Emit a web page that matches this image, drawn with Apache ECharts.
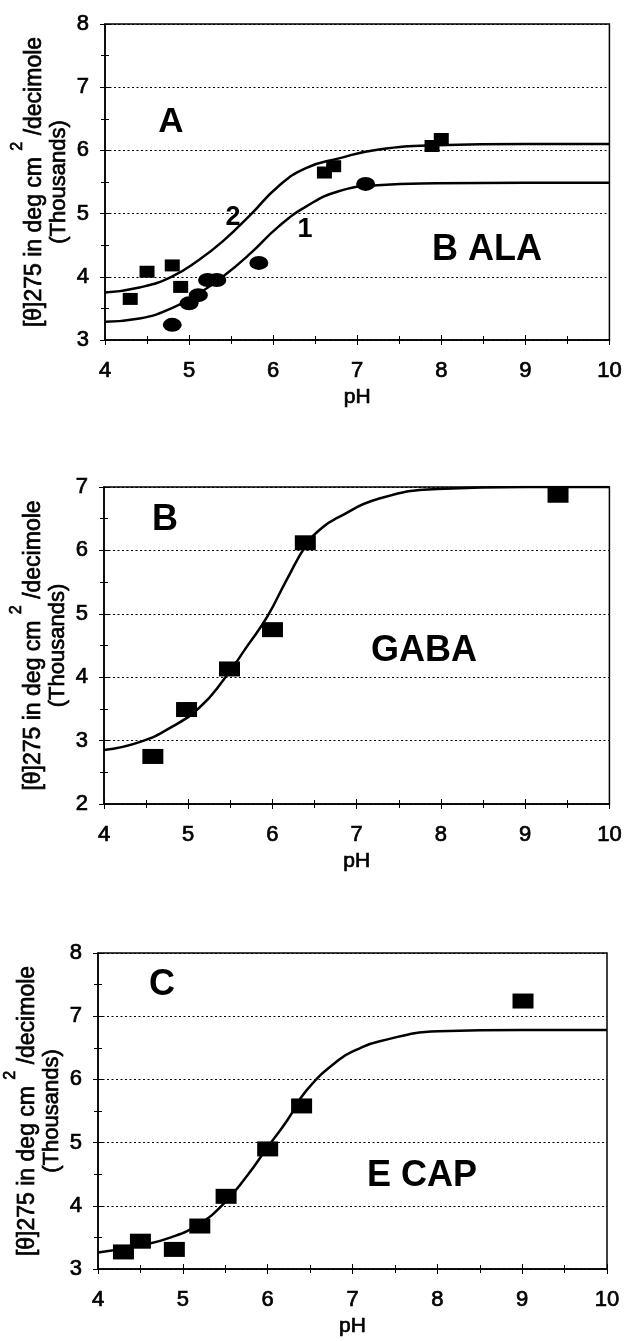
<!DOCTYPE html>
<html>
<head>
<meta charset="utf-8">
<script src="https://cdn.jsdelivr.net/npm/echarts@6/dist/echarts.min.js"></script>
<style>
html,body{margin:0;padding:0;background:#fff;}
#c{width:625px;height:1341px;}
</style>
</head>
<body>
<div id="c"></div>
<script>
// ---- data ----
const xTicks = [4, 5, 6, 7, 8, 9, 10];
const yRangeA = [3, 8];
const yRangeB = [2, 7];
const yRangeC = [3, 8];

// Panel A (B ALA)
const aCurve1 = [[4,3.29],[4.41,3.34],[4.79,3.50],[5.12,3.74],[5.40,4.00],[5.73,4.37],[6.06,4.79],[6.39,5.11],[6.77,5.35],[7.24,5.45],[7.94,5.48],[9,5.49],[10,5.49]];
const aCurve2 = [[4,3.75],[4.41,3.83],[4.79,4.00],[5.12,4.27],[5.40,4.56],[5.73,4.98],[6.06,5.43],[6.39,5.72],[6.77,5.87],[7.24,6.01],[7.94,6.08],[9,6.10],[10,6.10]];
const aSquares = [[4.30,3.65],[4.50,4.08],[4.80,4.18],[4.90,3.84],[6.61,5.65],[6.72,5.75],[7.89,6.07],[8.00,6.18]];
const aCircles = [[4.80,3.24],[5.00,3.58],[5.11,3.71],[5.22,3.95],[5.33,3.95],[5.83,4.22],[7.10,5.47]];

// Panel B (GABA)
const bCurve = [[4,2.85],[4.43,2.98],[4.81,3.22],[5.14,3.53],[5.42,3.96],[5.70,4.49],[5.94,4.96],[6.17,5.54],[6.41,6.10],[6.60,6.37],[6.78,6.52],[7.25,6.81],[7.96,6.97],[9,7.00],[10,7.00]];
const bSquares = [[4.58,2.75],[4.98,3.49],[5.49,4.13],[6.00,4.75],[6.39,6.12],[9.39,6.87]];

// Panel C (E CAP)
const cCurve = [[4,3.26],[4.49,3.37],[4.86,3.50],[5.19,3.71],[5.48,4.03],[5.76,4.48],[6.00,4.93],[6.23,5.35],[6.46,5.83],[6.84,6.31],[7.05,6.47],[7.31,6.60],[8.01,6.76],[9,6.78],[10,6.78]];
const cSquares = [[4.30,3.27],[4.50,3.44],[4.90,3.31],[5.20,3.68],[5.51,4.15],[6.00,4.90],[6.40,5.58],[9.01,7.24]];

// texts
const xTitle = 'pH';
const yTitleLine1 = ['[θ]275 in deg cm ', '2', ' /decimole'];
const yTitleLine2 = '(Thousands)';
const panelLabels = [
  {text:'A', x:171, y:122, size:35},
  {text:'2', x:233, y:218, size:27},
  {text:'1', x:305, y:230, size:27},
  {text:'B ALA', x:487, y:250, size:36},
  {text:'B', x:165, y:520, size:36},
  {text:'GABA', x:424, y:651, size:36},
  {text:'C', x:162, y:985, size:36},
  {text:'E CAP', x:422, y:1176, size:36}
];

// ---- layout ----
const FF = '"Liberation Sans", Arial, sans-serif';
const grids = [
  {left:105, top:24, width:507, height:316},
  {left:104, top:487, width:509, height:317},
  {left:98, top:953, width:509, height:316}
];
const yRanges = [yRangeA, yRangeB, yRangeC];
const heavy = {textBorderColor:'#000', textBorderWidth:0.7};

const xAxes = [], yAxes = [];
grids.forEach((g, i) => {
  xAxes.push({
    type:'value', gridIndex:i, min:xTicks[0], max:xTicks[xTicks.length-1], interval:1, position:'bottom',
    axisLine:{show:true, onZero:false, lineStyle:{color:'#000', width:1.5}},
    axisTick:{show:true, length:5, lineStyle:{color:'#000', width:1}},
    minorTick:{show:true, splitNumber:2, length:4, lineStyle:{color:'#000', width:1}},
    axisLabel:Object.assign({fontSize:22, color:'#000', fontFamily:FF, margin:20}, heavy),
    splitLine:{show:false},
    name:xTitle, nameLocation:'middle', nameGap:47,
    nameTextStyle:Object.assign({fontSize:21, color:'#000', fontFamily:FF}, heavy)
  });
  xAxes.push({
    type:'value', gridIndex:i, min:xTicks[0], max:xTicks[xTicks.length-1], interval:1, position:'bottom',
    axisLine:{show:false, onZero:false},
    axisTick:{show:true, inside:true, length:5, lineStyle:{color:'#000', width:1}},
    minorTick:{show:true, splitNumber:2, length:4, lineStyle:{color:'#000', width:1}},
    axisLabel:{show:false}, splitLine:{show:false}
  });
  yAxes.push({
    type:'value', gridIndex:i, min:yRanges[i][0], max:yRanges[i][1], interval:1, position:'left',
    axisLine:{show:true, onZero:false, lineStyle:{color:'#000', width:1.5}},
    axisTick:{show:true, length:5, lineStyle:{color:'#000', width:1}},
    minorTick:{show:true, splitNumber:2, length:4, lineStyle:{color:'#000', width:1}},
    axisLabel:Object.assign({fontSize:22, color:'#000', fontFamily:FF, margin:16}, heavy),
    splitLine:{show:true, lineStyle:{color:'#000', width:1.2, type:[2,2.5]}}
  });
  yAxes.push({
    type:'value', gridIndex:i, min:yRanges[i][0], max:yRanges[i][1], interval:1, position:'left',
    axisLine:{show:false, onZero:false},
    axisTick:{show:true, inside:true, length:5, lineStyle:{color:'#000', width:1}},
    minorTick:{show:true, splitNumber:2, length:4, lineStyle:{color:'#000', width:1}},
    axisLabel:{show:false}, splitLine:{show:false}
  });
});

function curve(data, i) {
  return {type:'line', xAxisIndex:2*i, yAxisIndex:2*i, data:data, showSymbol:false, symbol:'none',
    smooth:0.5, lineStyle:{color:'#000', width:2.5}, silent:true, z:2, animation:false};
}
function points(data, i, symbol, size) {
  return {type:'scatter', xAxisIndex:2*i, yAxisIndex:2*i, data:data, symbol:symbol, symbolSize:size,
    itemStyle:{color:'#000', opacity:1}, silent:true, z:3, animation:false};
}

const graphics = [];
panelLabels.forEach(l => {
  graphics.push({type:'text', x:l.x, y:l.y, silent:true,
    style:{text:l.text, fill:'#000', font:'bold ' + l.size + 'px ' + FF, textAlign:'center', textVerticalAlign:'middle'}});
});
grids.forEach(g => {
  const cy = g.top + g.height / 2;
  graphics.push({type:'text', x:g.left - 77, y:cy, rotation:Math.PI/2, silent:true,
    style:{
      text:'{a|' + yTitleLine1[0] + '}{s|' + yTitleLine1[1] + '}{a|' + yTitleLine1[2] + '}',
      rich:{
        a:{fontSize:23, fontFamily:FF, fill:'#000', lineHeight:22, verticalAlign:'bottom', stroke:'#000', lineWidth:0.7},
        s:{fontSize:16, fontFamily:FF, fill:'#000', lineHeight:36, verticalAlign:'top', stroke:'#000', lineWidth:0.7}
      },
      textAlign:'center', textVerticalAlign:'middle'
    }});
  graphics.push({type:'text', x:g.left - 46, y:cy, rotation:Math.PI/2, silent:true,
    style:{text:yTitleLine2, fill:'#000', stroke:'#000', lineWidth:0.7, font:'22px ' + FF, textAlign:'center', textVerticalAlign:'middle'}});
});

const chart = echarts.init(document.getElementById('c'), null, {renderer:'canvas'});
chart.setOption({
  animation:false,
  backgroundColor:'#fff',
  grid:grids.map(g => Object.assign({show:true, borderColor:'#000', borderWidth:1.5, backgroundColor:'transparent', containLabel:false}, g)),
  xAxis:xAxes,
  yAxis:yAxes,
  series:[
    curve(aCurve1, 0), curve(aCurve2, 0),
    points(aSquares, 0, 'rect', [15, 12]), points(aCircles, 0, 'circle', [19, 14]),
    curve(bCurve, 1), points(bSquares, 1, 'rect', [21, 15]),
    curve(cCurve, 2), points(cSquares, 2, 'rect', [21, 15])
  ],
  graphic:graphics
});
</script>
</body>
</html>
